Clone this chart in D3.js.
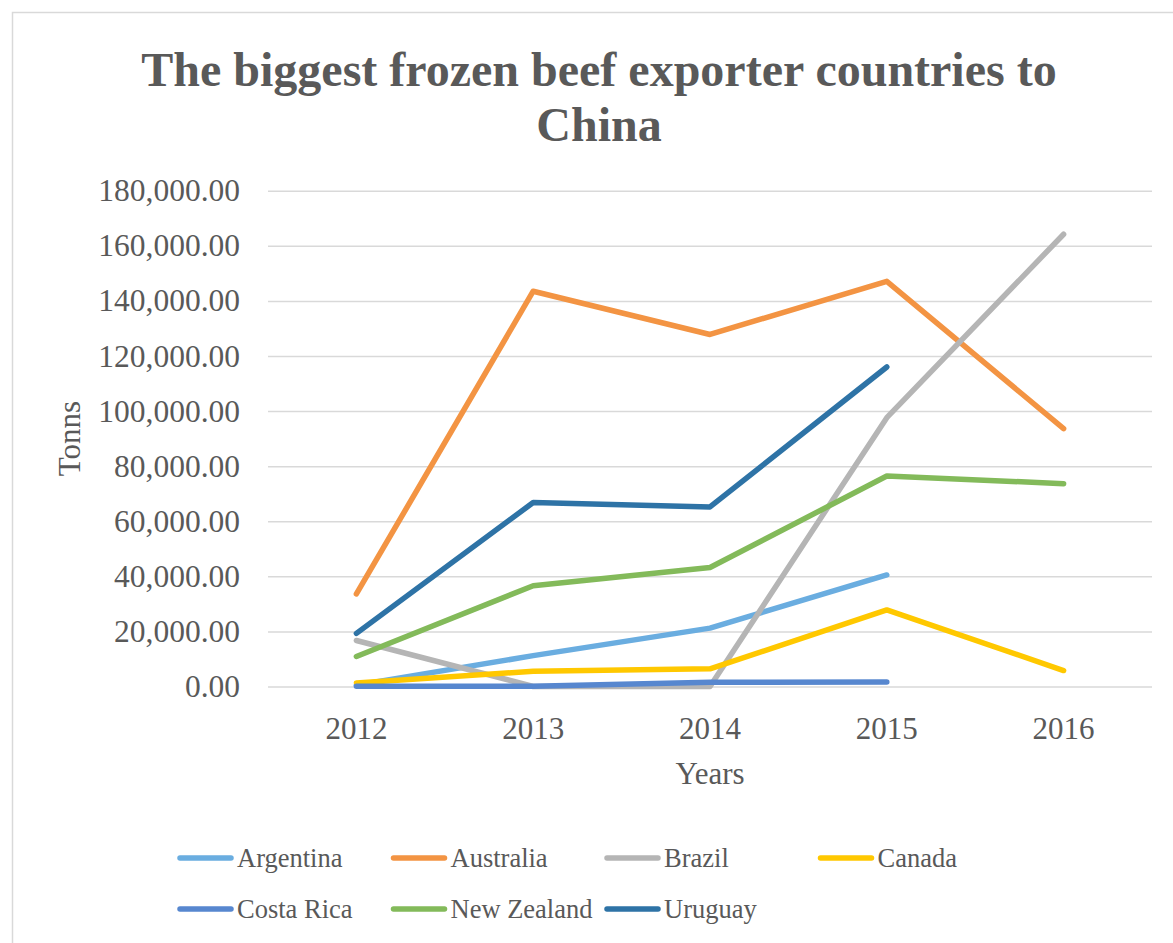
<!DOCTYPE html>
<html>
<head>
<meta charset="utf-8">
<script src="https://cdn.jsdelivr.net/npm/d3@7"></script>
<style>
  body { margin: 0; background: #fff; }
  svg { display: block; }
  text { font-family: "Liberation Serif", "Times New Roman", serif; fill: #595959; }
</style>
</head>
<body>
<svg width="1173" height="943"></svg>
<script>
const years = ['2012', '2013', '2014', '2015', '2016'];
const countries = ['Argentina', 'Australia', 'Brazil', 'Canada', 'Costa Rica', 'New Zealand', 'Uruguay'];

// tonnes per year, null = no value
const argentina = [500, 11200, 21200, 40500, null];
const australia = [33600, 143500, 127800, 147100, 93600];
const brazil = [16700, 0, 0, 97600, 164200];
const canada = [1300, 5500, 6400, 27800, 5800];
const costaRica = [100, 50, 1500, 1600, null];
const newZealand = [10900, 36600, 43200, 76400, 73650];
const uruguay = [19300, 66800, 65200, 116000, null];

const yTicks = [0, 20000, 40000, 60000, 80000, 100000, 120000, 140000, 160000, 180000];

const seriesValues = [argentina, australia, brazil, canada, costaRica, newZealand, uruguay];
const colors = ['#6AADE0', '#F39443', '#B5B5B5', '#FFC800', '#5787CF', '#83BA5A', '#2E73A6'];

const series = countries.map((c, i) => ({ name: c, values: seriesValues[i], color: colors[i] }));

const fontFamily = '"Liberation Serif", "Times New Roman", serif';
const svg = d3.select('svg');

// chart frame (cropped on right/bottom like the original)
svg.append('rect')
  .attr('x', 12.5).attr('y', 12.5)
  .attr('width', 1200).attr('height', 1000)
  .attr('fill', 'none')
  .attr('stroke', '#d9d9d9')
  .attr('stroke-width', 1.5);

// title
const title = svg.append('text')
  .attr('text-anchor', 'middle')
  .attr('font-family', fontFamily)
  .attr('font-size', '48px')
  .attr('font-weight', 'bold');
title.append('tspan').attr('x', 599).attr('y', 86).text('The biggest frozen beef exporter countries to');
title.append('tspan').attr('x', 599).attr('y', 141).text('China');

const plotLeft = 268, plotRight = 1152, plotTop = 190.7, plotBottom = 686.5;

const xScale = d3.scaleBand()
  .domain(years)
  .range([plotLeft, plotRight]);

const yScale = d3.scaleLinear()
  .domain([0, 180000])
  .range([plotBottom, plotTop]);

// y axis + gridlines
const yAxis = d3.axisLeft(yScale)
  .tickValues(yTicks)
  .tickFormat(d3.format(',.2f'))
  .tickSize(-(plotRight - plotLeft))
  .tickPadding(28);

const yAxisG = svg.append('g')
  .attr('transform', `translate(${plotLeft},0)`)
  .call(yAxis);
yAxisG.select('.domain').remove();
yAxisG.selectAll('.tick line')
  .attr('stroke', '#d9d9d9')
  .attr('stroke-width', 1.5);
yAxisG.selectAll('.tick text')
  .attr('font-size', '31.5px')
  .attr('fill', '#595959')
  .attr('font-family', fontFamily);

// x axis
const xAxis = d3.axisBottom(xScale).tickSize(0).tickPadding(30);
const xAxisG = svg.append('g')
  .attr('transform', `translate(0,${plotBottom})`)
  .call(xAxis);
xAxisG.select('.domain').remove();
xAxisG.selectAll('.tick text')
  .attr('font-size', '31px')
  .attr('fill', '#595959')
  .attr('font-family', fontFamily);

// axis titles
svg.append('text')
  .attr('text-anchor', 'middle')
  .attr('font-family', fontFamily)
  .attr('font-size', '31px')
  .attr('x', (plotLeft + plotRight) / 2)
  .attr('y', 784)
  .text('Years');

svg.append('text')
  .attr('text-anchor', 'middle')
  .attr('font-family', fontFamily)
  .attr('font-size', '31px')
  .attr('transform', `translate(80,${(plotTop + plotBottom) / 2}) rotate(-90)`)
  .text('Tonns');

// lines
const line = d3.line()
  .defined(d => d.v !== null)
  .x(d => xScale(d.year) + xScale.bandwidth() / 2)
  .y(d => yScale(d.v));

svg.append('g').selectAll('path')
  .data(series)
  .enter().append('path')
  .attr('d', s => line(s.values.map((v, i) => ({ year: years[i], v: v }))))
  .attr('fill', 'none')
  .attr('stroke', s => s.color)
  .attr('stroke-width', 5.5)
  .attr('stroke-linejoin', 'round')
  .attr('stroke-linecap', 'round');

// legend
const legendG = svg.append('g');
series.forEach((s, i) => {
  const col = i < 4 ? i : i - 4;
  const row = i < 4 ? 0 : 1;
  const lx = 180 + col * 213.5;
  const ly = 858 + row * 51;
  legendG.append('line')
    .attr('x1', lx).attr('x2', lx + 51)
    .attr('y1', ly).attr('y2', ly)
    .attr('stroke', s.color)
    .attr('stroke-width', 5.5)
    .attr('stroke-linecap', 'round');
  legendG.append('text')
    .attr('x', lx + 57)
    .attr('y', ly)
    .attr('dy', '0.35em')
    .attr('font-family', fontFamily)
    .attr('font-size', '26.5px')
    .text(s.name);
});
</script>
</body>
</html>
